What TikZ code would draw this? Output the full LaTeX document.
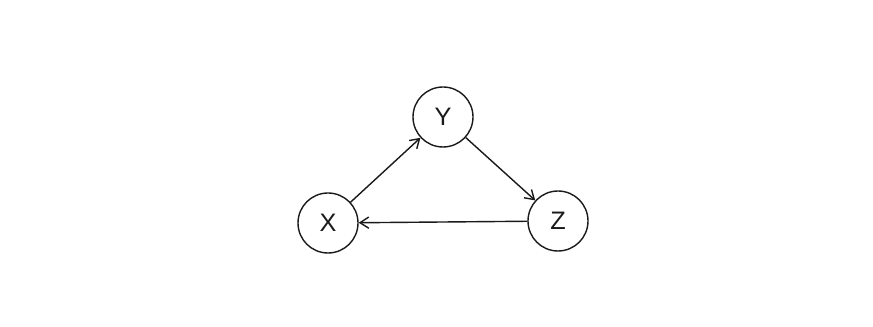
\documentclass[tikz,border=0pt]{standalone}
\usepackage{fontspec}
\setmainfont{Liberation Sans}
\usetikzlibrary{arrows.meta}
\definecolor{cink}{HTML}{1A1A1A}
\tikzset{
  every picture/.style={font=\fontsize{18}{21}\selectfont, line width=1pt},
  arrow/.style={-{Straight Barb[length=2.2mm, width=2.8mm]}, draw=cink, line width=1pt},
}
\begin{document}
\begin{tikzpicture}[v/.style={circle, draw=cink, minimum size=1.5cm, inner sep=0pt, text=cink}]
  \useasboundingbox (0,0) rectangle (21.825,8.175);
  % vertices
  \node[v] (x) at (8.2,2.6) {X};
  \node[v] (y) at (11.075,5.25) {Y};
  \node[v] (z) at (13.95,2.65) {Z};
  % cycle x -> y -> z -> x
  \draw[arrow] (x) -- (y);
  \draw[arrow] (y) -- (z);
  \draw[arrow] (z) -- (x);
\end{tikzpicture}
\end{document}
